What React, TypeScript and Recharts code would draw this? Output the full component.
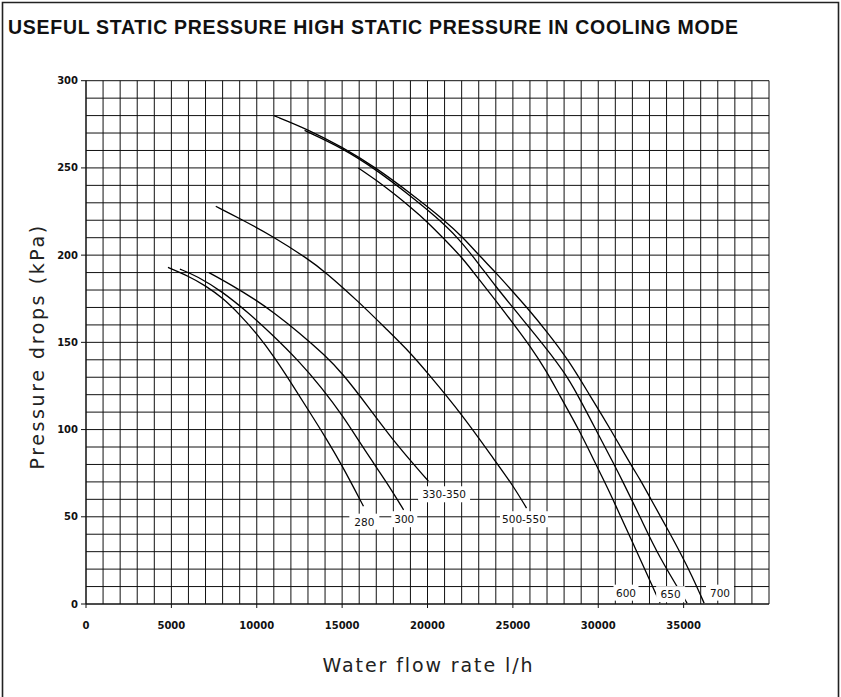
import React from 'react';
import { LineChart, Line, XAxis, YAxis, CartesianGrid, ReferenceDot } from 'recharts';

// Flow-rate axis (l/h): grid every 1000, labels every 5000
const flowTicks = [
  0, 1000, 2000, 3000, 4000, 5000, 6000, 7000, 8000, 9000,
  10000, 11000, 12000, 13000, 14000, 15000, 16000, 17000, 18000, 19000,
  20000, 21000, 22000, 23000, 24000, 25000, 26000, 27000, 28000, 29000,
  30000, 31000, 32000, 33000, 34000, 35000, 36000, 37000, 38000, 39000, 40000,
];
const flowLabels = [0, 5000, 10000, 15000, 20000, 25000, 30000, 35000];

// Pressure axis (kPa): grid every 10, labels every 50
const pressureTicks = [
  0, 10, 20, 30, 40, 50, 60, 70, 80, 90, 100, 110, 120, 130, 140, 150,
  160, 170, 180, 190, 200, 210, 220, 230, 240, 250, 260, 270, 280, 290, 300,
];
const pressureLabels = [0, 50, 100, 150, 200, 250, 300];

// Useful static pressure curves per model size: [flow l/h, kPa]
const model280 = [
  [4800, 193], [6000, 188], [7000, 182.5], [8000, 175.5], [9000, 166], [10000, 155],
  [11000, 142], [12000, 127], [13000, 111.5], [14000, 96], [15000, 79.5], [16250, 56],
];
const model300 = [
  [5500, 192], [6500, 188], [8000, 179], [9500, 167], [10800, 155.5], [12500, 139],
  [13800, 124], [15000, 108.5], [16400, 87], [17600, 70], [18600, 54],
];
const model330 = [
  [7200, 190], [8500, 183], [10000, 174], [11000, 167], [12500, 155.5], [14000, 142.5],
  [15000, 132.5], [16500, 113.5], [18200, 91], [20050, 70.5],
];
const model500 = [
  [7600, 228], [9000, 221], [11000, 210.5], [13000, 197.8], [14000, 190.5], [16000, 173],
  [17600, 157.5], [19000, 144], [20000, 132.5], [22000, 109], [24000, 81.5], [25000, 68],
  [25800, 55],
];
const model600 = [
  [15950, 250], [17000, 243], [18000, 235.5], [19000, 227.5], [20000, 219], [21000, 209],
  [22000, 199], [23100, 185], [24000, 174], [25000, 161], [26000, 148], [27000, 133],
  [27660, 121], [28930, 99], [29910, 79], [30300, 71.5], [31000, 57], [32000, 35.5],
  [33000, 14], [33620, 0.5],
];
const model650 = [
  [12800, 271.5], [15000, 261.5], [17000, 249], [19000, 234], [20500, 222], [21800, 210],
  [23000, 195], [24000, 182], [25000, 170], [26000, 158], [27000, 146], [28000, 133],
  [28740, 121], [29910, 99], [30980, 79], [31370, 71.5], [32500, 49], [33500, 28],
  [35200, 0.5],
];
const model700 = [
  [11000, 280], [12900, 272.5], [15000, 262], [17000, 250], [19000, 235.5], [21000, 220],
  [22100, 210], [23100, 199], [24000, 190], [25000, 179], [26000, 168], [27000, 156],
  [28250, 140], [29420, 121], [30790, 99], [31960, 79], [32445, 71.5], [33030, 61],
  [34000, 44], [34800, 29.5], [35500, 16], [36200, 0.5],
];

// Curve tags: name, anchor flow, anchor pressure, box width
const tagNames = ['280', '300', '330-350', '500-550', '600', '650', '700'];
const tagFlow = [16300, 18640, 20970, 25650, 31625, 34240, 37130];
const tagPressure = [47.2, 48.6, 62.9, 48.6, 6.5, 5.6, 6.5];
const tagWidth = [30, 26, 52, 48, 25, 29, 28];

const series = [model280, model300, model330, model500, model600, model650, model700];

const toPoints = (rows: number[][]) => rows.map(([x, y]) => ({ x, y }));

const FONT = '"DejaVu Sans", sans-serif';

const FlowTick = (props: any) => {
  const { x, y, payload } = props;
  const v = payload.value;
  if (!flowLabels.includes(v)) return <g />;
  return (
    <g>
      <line x1={x} x2={x} y1={y} y2={y + 4} stroke="#111" strokeWidth={1} />
      <text x={x} y={y + 25} textAnchor="middle" fontFamily={FONT} fontWeight="bold" fontSize={10} fill="#111">
        {v}
      </text>
    </g>
  );
};

const PressureTick = (props: any) => {
  const { x, y, payload } = props;
  const v = payload.value;
  if (!pressureLabels.includes(v)) return <g />;
  return (
    <g>
      <line x1={x - 5} x2={x} y1={y} y2={y} stroke="#111" strokeWidth={1} />
      <text x={x - 8} y={y + 3.5} textAnchor="end" fontFamily={FONT} fontWeight="bold" fontSize={10} fill="#111">
        {v}
      </text>
    </g>
  );
};

const CurveTag = (props: any) => {
  const { cx, cy, name, w } = props;
  return (
    <g>
      <rect x={cx - w / 2} y={cy - 8} width={w} height={16} fill="#fff" />
      <text x={cx} y={cy + 4} textAnchor="middle" fontFamily={FONT} fontSize={10.5} fill="#111">
        {name}
      </text>
    </g>
  );
};

const FlowTitle = (props: any) => {
  const vb = props.viewBox || {};
  const cx = vb.x + vb.width / 2 + 1;
  return (
    <text x={cx} y={672} textAnchor="middle" fontFamily={FONT} fontSize={19} letterSpacing={1.9} fill="#222">
      Water flow rate l/h
    </text>
  );
};

const PressureTitle = (props: any) => {
  const vb = props.viewBox || {};
  const cy = vb.y + vb.height / 2 + 4;
  const x = 44;
  return (
    <text
      x={x}
      y={cy}
      transform={`rotate(-90 ${x} ${cy})`}
      textAnchor="middle"
      fontFamily={FONT}
      fontSize={19}
      letterSpacing={2.6}
      fill="#222"
    >
      Pressure drops (kPa)
    </text>
  );
};

export default function App() {
  return (
    <div style={{ position: 'absolute', left: 0, top: 0, width: 841, height: 697, background: '#fff', overflow: 'hidden' }}>
      <svg width={841} height={697} style={{ position: 'absolute', left: 0, top: 0 }}>
        <path d="M2.5 705 L2.5 2.5 L838.5 2.5 L838.5 705" fill="none" stroke="#222" strokeWidth={1.6} />
        <text x={8} y={34.3} fontFamily='"Liberation Sans", Arial, sans-serif' fontWeight="bold" fontSize={19.5} letterSpacing={0.72} fill="#111">
          USEFUL STATIC PRESSURE HIGH STATIC PRESSURE IN COOLING MODE
        </text>
      </svg>
      <div style={{ position: 'absolute', left: 0, top: 0 }}>
        <LineChart width={841} height={697} margin={{ top: 80.7, right: 72, bottom: 0, left: 0 }}>
          <CartesianGrid stroke="#111" strokeWidth={1} />
          <XAxis
            type="number"
            dataKey="x"
            domain={[0, 40000]}
            ticks={flowTicks}
            interval={0}
            height={93}
            tickSize={0}
            tickMargin={0}
            tickLine={false}
            axisLine={{ stroke: '#111' }}
            tick={<FlowTick />}
            allowDataOverflow
            label={{ content: <FlowTitle /> }}
          />
          <YAxis
            type="number"
            dataKey="y"
            domain={[0, 300]}
            ticks={pressureTicks}
            interval={0}
            width={86}
            tickSize={0}
            tickMargin={0}
            tickLine={false}
            axisLine={{ stroke: '#111' }}
            tick={<PressureTick />}
            allowDataOverflow
            label={{ content: <PressureTitle /> }}
          />
          {series.map((rows, i) => (
            <Line
              key={tagNames[i]}
              data={toPoints(rows)}
              dataKey="y"
              type="basis"
              stroke="#000"
              strokeWidth={1.3}
              dot={false}
              activeDot={false}
              isAnimationActive={false}
            />
          ))}
          {tagNames.map((name, i) => (
            <ReferenceDot
              key={'tag' + name}
              x={tagFlow[i]}
              y={tagPressure[i]}
              r={0}
              ifOverflow="visible"
              shape={(p: any) => <CurveTag {...p} name={name} w={tagWidth[i]} />}
            />
          ))}
        </LineChart>
      </div>
    </div>
  );
}
